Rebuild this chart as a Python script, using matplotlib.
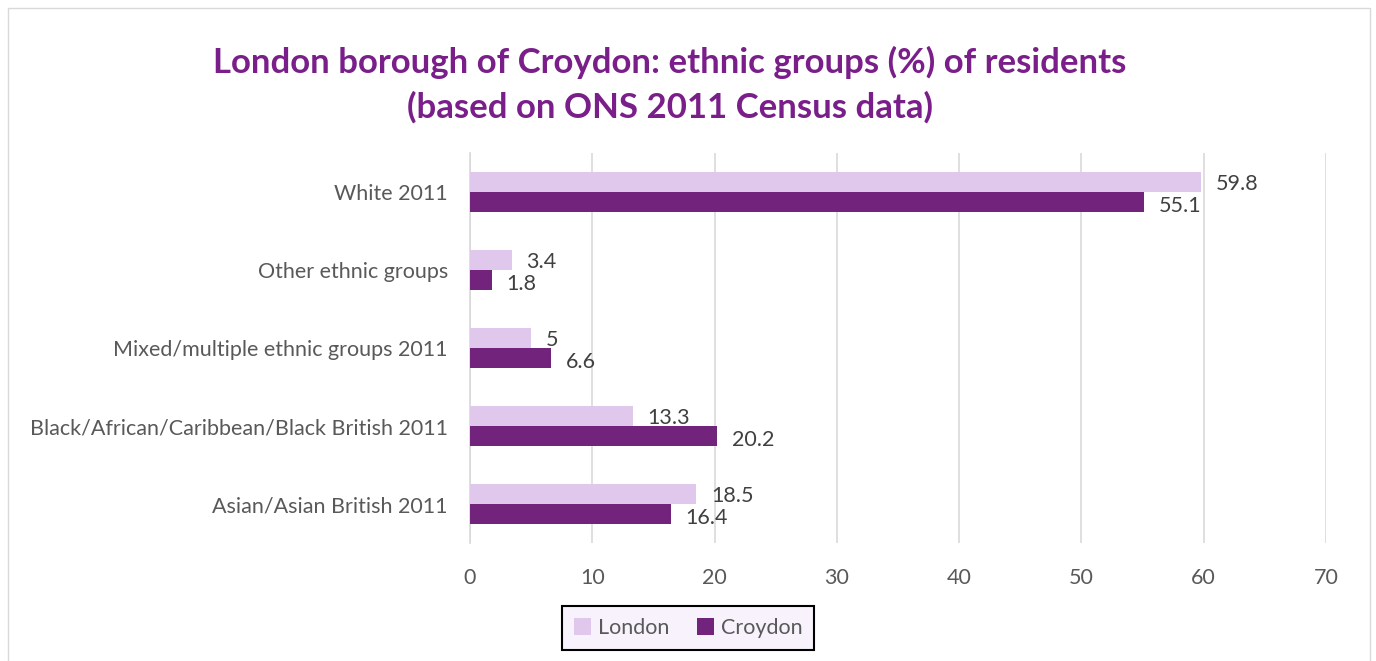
import numpy as np
import matplotlib.pyplot as plt
from matplotlib.patches import Rectangle

plt.rcParams['font.family'] = ['Lato', 'DejaVu Sans']

categories = ['White 2011', 'Other ethnic groups', 'Mixed/multiple ethnic groups 2011',
              'Black/African/Caribbean/Black British 2011', 'Asian/Asian British 2011']
london = [59.8, 3.4, 5, 13.3, 18.5]
croydon = [55.1, 1.8, 6.6, 20.2, 16.4]
london_labels = ['59.8', '3.4', '5', '13.3', '18.5']
croydon_labels = ['55.1', '1.8', '6.6', '20.2', '16.4']

c_london = '#dfc8ec'
c_croydon = '#72247c'
txt = '#595959'

fig = plt.figure(figsize=(13.76, 6.61), dpi=100)
fig.patches.append(Rectangle((0.006, -0.01), 0.99, 0.998, transform=fig.transFigure,
                             fill=False, edgecolor='#d9d9d9', linewidth=1))
ax = fig.add_axes([0.3416, 0.1785, 0.622, 0.590])

y = np.arange(len(categories))
h = 0.256
ax.barh(y - h / 2, london, height=h, color=c_london, label='London', zorder=3)
ax.barh(y + h / 2, croydon, height=h, color=c_croydon, label='Croydon', zorder=3)

for i in range(len(categories)):
    ax.text(london[i] + 1.2, y[i] - h / 2 + 0.02, london_labels[i], va='center', ha='left',
            fontsize=15.5, color='#404040')
    ax.text(croydon[i] + 1.2, y[i] + h / 2 + 0.05, croydon_labels[i], va='center', ha='left',
            fontsize=15.5, color='#404040')

ax.set_xlim(0, 70)
ax.set_ylim(len(categories) - 0.5, -0.5)
ax.set_xticks(range(0, 71, 10))
ax.set_yticks(y)
ax.set_yticklabels(categories)
ax.tick_params(axis='both', length=0, labelsize=15.5, colors=txt)
ax.tick_params(axis='x', pad=18)
ax.tick_params(axis='y', pad=16)
ax.grid(axis='x', color='#d9d9d9', linewidth=1.2, zorder=0)
for s in ['top', 'right', 'bottom']:
    ax.spines[s].set_visible(False)
ax.spines['left'].set_color('#d9d9d9')
ax.spines['left'].set_linewidth(1.2)

fig.text(0.487, 0.872, 'London borough of Croydon: ethnic groups (%) of residents\n(based on ONS 2011 Census data)',
         ha='center', va='center', fontsize=25, fontweight='bold', color='#7a1f8a', linespacing=1.45)

leg = ax.legend(loc='center', bbox_to_anchor=((688 - 470) / 856, -0.218),
                ncol=2, fontsize=15.5, frameon=True, fancybox=False, handlelength=0.8, handleheight=0.8,
                columnspacing=1.3, handletextpad=0.3, borderpad=0.55)
for t in leg.get_texts():
    t.set_color(txt)
leg.get_frame().set_edgecolor('black')
leg.get_frame().set_linewidth(1.5)
leg.get_frame().set_facecolor('#f8f2fc')
leg.get_frame().set_alpha(1)

fig.savefig('out.png', dpi=100)
